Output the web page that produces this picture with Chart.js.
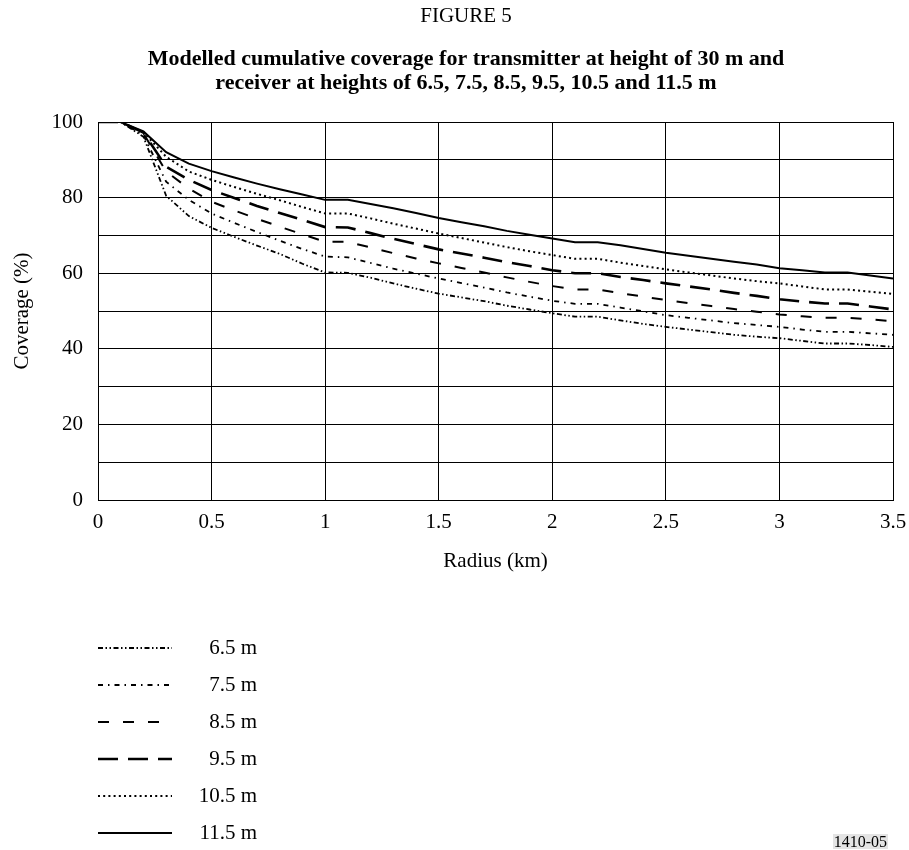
<!DOCTYPE html>
<html>
<head>
<meta charset="utf-8">
<script src="https://cdn.jsdelivr.net/npm/chart.js@4.4.1/dist/chart.umd.min.js"></script>
<style>
  html, body { margin: 0; padding: 0; background: #ffffff; }
  #wrap { position: relative; width: 909px; height: 850px; }
  canvas { display: block; }
  #code { position: absolute; right: 21px; top: 834px; font: 16px "Liberation Serif", "Times New Roman", serif; background: #e4e4e4; padding: 0 1px; line-height: 15px; color: #000; }
</style>
</head>
<body>
<div id="wrap">
  <canvas id="chart" width="909" height="850"></canvas>
  <div id="code">1410-05</div>
</div>
<script>
// ---- data ----
const RADIUS_KM = [0, 0.1, 0.2, 0.3, 0.4, 0.5, 0.6, 0.7, 0.8, 0.9, 1.0, 1.1, 1.2, 1.3, 1.4, 1.5, 1.6, 1.7, 1.8, 1.9, 2.0, 2.1, 2.2, 2.3, 2.4, 2.5, 2.6, 2.7, 2.8, 2.9, 3.0, 3.1, 3.2, 3.3, 3.4, 3.5];

const COV_6_5 = [100, 100, 96.1, 80.5, 75.1, 72.0, 69.6, 67.3, 65.1, 62.5, 60.2, 60.1, 58.8, 57.3, 55.9, 54.6, 53.6, 52.6, 51.4, 50.4, 49.4, 48.5, 48.5, 47.5, 46.6, 45.8, 45.1, 44.4, 43.7, 43.2, 42.8, 42.1, 41.4, 41.4, 41.0, 40.5];
const COV_7_5 = [100, 100, 96.5, 84.2, 79.4, 75.8, 73.3, 70.9, 68.6, 66.4, 64.4, 64.2, 62.7, 61.2, 59.9, 58.6, 57.4, 56.2, 54.9, 53.8, 52.7, 51.9, 51.9, 50.9, 49.9, 48.9, 48.2, 47.5, 46.8, 46.3, 45.8, 45.1, 44.5, 44.5, 44.1, 43.7];
const COV_8_5 = [100, 100, 97.0, 86.9, 82.4, 78.9, 76.6, 74.4, 72.3, 70.3, 68.3, 68.3, 66.8, 65.3, 63.9, 62.6, 61.4, 60.2, 58.9, 57.7, 56.6, 55.7, 55.7, 54.7, 53.8, 52.9, 52.1, 51.3, 50.5, 49.8, 49.1, 48.6, 48.2, 48.2, 47.8, 47.3];
const COV_9_5 = [100, 100, 97.2, 88.2, 84.7, 82.0, 79.9, 77.8, 75.9, 74.1, 72.2, 72.1, 70.6, 69.1, 67.7, 66.3, 65.2, 64.1, 62.9, 61.9, 60.8, 60.0, 60.0, 59.0, 58.2, 57.3, 56.5, 55.7, 54.8, 54.0, 53.1, 52.5, 52.0, 52.0, 51.2, 50.4];
const COV_10_5 = [100, 100, 97.3, 90.8, 86.9, 84.7, 82.8, 81.0, 79.3, 77.5, 75.8, 75.8, 74.5, 73.1, 71.8, 70.5, 69.3, 68.1, 66.9, 65.8, 64.8, 63.8, 63.8, 62.8, 61.9, 61.0, 60.2, 59.4, 58.6, 57.9, 57.3, 56.5, 55.7, 55.7, 55.1, 54.5];
const COV_11_5 = [100, 100, 97.5, 92.0, 89.0, 87.0, 85.3, 83.7, 82.2, 80.8, 79.4, 79.4, 78.3, 77.2, 75.9, 74.6, 73.5, 72.4, 71.2, 70.2, 69.2, 68.2, 68.2, 67.4, 66.4, 65.4, 64.6, 63.8, 63.0, 62.3, 61.3, 60.8, 60.2, 60.2, 59.4, 58.6];

const SERIES_LABELS = ['6.5 m', '7.5 m', '8.5 m', '9.5 m', '10.5 m', '11.5 m'];
const X_TICKS = [0, 0.5, 1, 1.5, 2, 2.5, 3, 3.5];
const Y_LABELLED_TICKS = [0, 20, 40, 60, 80, 100];

const FIG_LABEL = 'FIGURE 5';
const TITLE_LINES = ['Modelled cumulative coverage for transmitter at height of 30 m and',
                     'receiver at heights of 6.5, 7.5, 8.5, 9.5, 10.5 and 11.5 m'];
const X_TITLE = 'Radius (km)';
const Y_TITLE = 'Coverage (%)';

// ---- styles ----
const SERIF = '"Liberation Serif", "Times New Roman", Times, serif';
const STYLES = [
  { dash: [5, 2.5, 1.5, 2.5, 1.5, 2.5], width: 1.8 },
  { dash: [5, 5, 1.5, 5], width: 1.8 },
  { dash: [11, 14], width: 2 },
  { dash: [20, 10], width: 2.6 },
  { dash: [2, 3.2], width: 2 },
  { dash: [], width: 2 }
];
const SERIES = [COV_6_5, COV_7_5, COV_8_5, COV_9_5, COV_10_5, COV_11_5];

const datasets = SERIES.map((vals, i) => ({
  label: SERIES_LABELS[i],
  data: RADIUS_KM.map((r, k) => ({ x: r, y: vals[k] })),
  borderColor: '#000',
  borderWidth: STYLES[i].width,
  borderDash: STYLES[i].dash,
  pointRadius: 0,
  tension: 0,
  fill: false,
  borderCapStyle: 'butt'
}));

const textPlugin = {
  id: 'figText',
  afterDraw(chart) {
    const ctx = chart.ctx;
    ctx.save();
    ctx.fillStyle = '#000';
    ctx.textAlign = 'center';
    ctx.textBaseline = 'middle';
    const cx = 466;
    ctx.font = '21px ' + SERIF;
    ctx.fillText(FIG_LABEL, cx, 16);
    ctx.font = 'bold 22px ' + SERIF;
    ctx.fillText(TITLE_LINES[0], cx, 59);
    ctx.fillText(TITLE_LINES[1], cx, 83);

    // legend
    const y0 = 648, dy = 37;
    chart.data.datasets.forEach((ds, i) => {
      const y = y0 + i * dy;
      ctx.save();
      ctx.strokeStyle = '#000';
      ctx.lineWidth = ds.borderWidth;
      ctx.setLineDash(ds.borderDash);
      ctx.beginPath();
      ctx.moveTo(98, y);
      ctx.lineTo(172, y);
      ctx.stroke();
      ctx.restore();
      ctx.font = '21px ' + SERIF;
      ctx.textAlign = 'right';
      ctx.textBaseline = 'middle';
      ctx.fillText(ds.label, 257, y);
    });
    ctx.restore();
  }
};

new Chart(document.getElementById('chart'), {
  type: 'line',
  data: { datasets },
  options: {
    responsive: false,
    animation: false,
    devicePixelRatio: 1,
    layout: { padding: { top: 122, right: 16, bottom: 270, left: 0 } },
    plugins: { legend: { display: false }, tooltip: { enabled: false }, title: { display: false } },
    scales: {
      x: {
        type: 'linear',
        min: 0, max: 3.5,
        afterFit: (s) => { s.height = 80; s.paddingRight = 0; s.paddingLeft = 0; },
        afterBuildTicks: (s) => { s.ticks = X_TICKS.map(v => ({ value: v })); },
        ticks: { stepSize: 0.5, padding: 10, color: '#000', font: { family: SERIF, size: 21 }, maxRotation: 0,
                 callback: (v) => String(v) },
        grid: { color: '#000', lineWidth: 1, drawTicks: false },
        border: { color: '#000', width: 1 },
        title: { display: true, text: X_TITLE, color: '#000', font: { family: SERIF, size: 21 }, padding: { top: 0, bottom: 6 } }
      },
      y: {
        min: 0, max: 100,
        afterFit: (s) => { s.width = 98; },
        ticks: { stepSize: 10, padding: 15, color: '#000', font: { family: SERIF, size: 21 },
                 callback: (v) => (Y_LABELLED_TICKS.includes(v) ? String(v) : '') },
        grid: { color: '#000', lineWidth: 1, drawTicks: false },
        border: { color: '#000', width: 1 },
        title: { display: true, text: Y_TITLE, color: '#000', font: { family: SERIF, size: 21 }, padding: { top: 10, bottom: 0 } }
      }
    }
  },
  plugins: [textPlugin]
});
</script>
</body>
</html>
